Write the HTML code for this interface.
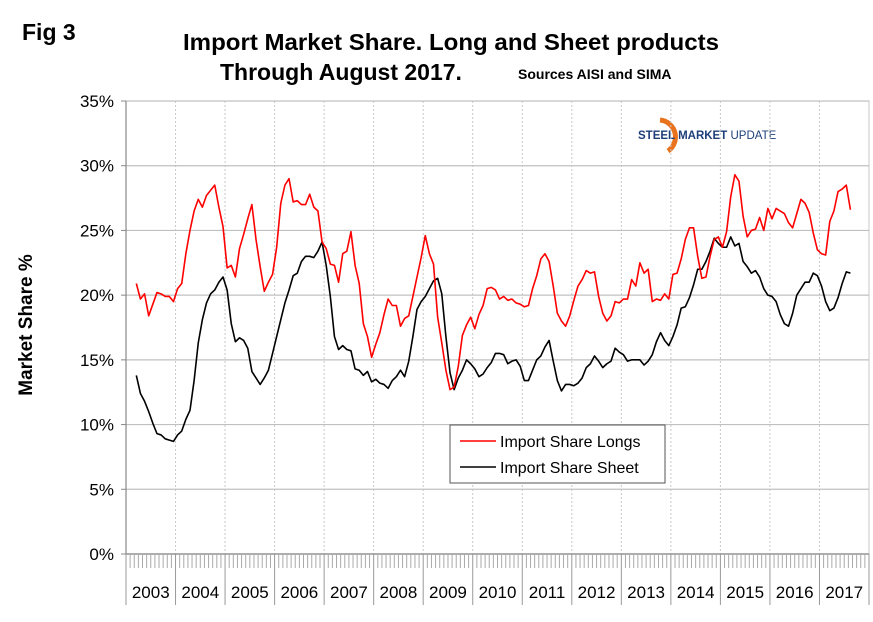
<!DOCTYPE html>
<html><head><meta charset="utf-8"><style>
html,body{margin:0;padding:0;background:#fff;}
svg{display:block;font-family:"Liberation Sans",Arial,sans-serif;}
</style></head><body>
<svg id="chart" width="873" height="622" viewBox="0 0 873 622">
<text x="22" y="40" font-size="23" font-weight="bold">Fig 3</text>
<text x="451" y="50" font-size="23" font-weight="bold" text-anchor="middle" textLength="536" lengthAdjust="spacingAndGlyphs">Import Market Share. Long and Sheet products</text>
<text x="220" y="80" font-size="23" font-weight="bold">Through August 2017.</text>
<text x="518" y="79" font-size="14" font-weight="bold">Sources AISI and SIMA</text>
<g>
<path d="M660,120 A17,17 0 0 1 668,151" fill="none" stroke="#e8731c" stroke-width="5"/>
<text x="638" y="139" font-size="11.5" font-weight="bold" fill="#1d3f7a">STEEL <tspan font-weight="bold">MARKET</tspan> <tspan font-weight="normal">UPDATE</tspan></text>
</g>
<text transform="translate(32,325) rotate(-90)" font-size="19" font-weight="bold" text-anchor="middle">Market Share %</text>
<g id="grid"></g><g id="axes"></g><g id="series"></g>
<g>
<rect x="450" y="425" width="215" height="58" fill="#fff" stroke="#555" stroke-width="1"/>
<line x1="460" y1="441" x2="496" y2="441" stroke="#ff0000" stroke-width="1.5"/>
<text x="500" y="447" font-size="16">Import Share Longs</text>
<line x1="460" y1="467" x2="496" y2="467" stroke="#000" stroke-width="1.5"/>
<text x="500" y="473" font-size="16">Import Share Sheet</text>
</g>
</svg>
<script>
const years = ["2003","2004","2005","2006","2007","2008","2009","2010","2011","2012","2013","2014","2015","2016","2017"];
const yTicks = [0,5,10,15,20,25,30,35];
const startMonth = 2; // March 2003
const longs = [20.9,19.7,20.1,18.4,19.3,20.2,20.1,19.9,19.9,19.5,20.5,20.9,23.2,25.0,26.5,27.4,26.8,27.7,28.1,28.5,26.8,25.3,22.1,22.3,21.4,23.6,24.7,25.9,27.0,24.3,22.2,20.3,21.0,21.6,23.7,27.1,28.5,29.0,27.2,27.3,27.0,27.0,27.8,26.8,26.5,24.1,23.6,22.4,22.3,21.0,23.2,23.4,24.9,22.3,20.9,17.8,16.8,15.2,16.2,17.1,18.5,19.7,19.2,19.2,17.6,18.2,18.4,19.9,21.4,22.9,24.6,23.2,22.4,18.3,16.3,14.2,12.7,12.9,14.5,16.9,17.7,18.3,17.4,18.5,19.2,20.5,20.6,20.4,19.7,19.9,19.6,19.7,19.4,19.3,19.1,19.2,20.5,21.5,22.8,23.2,22.6,20.7,18.6,18.0,17.6,18.4,19.6,20.7,21.2,21.9,21.7,21.8,19.9,18.6,18.0,18.4,19.5,19.4,19.7,19.7,21.2,20.7,22.5,21.7,22.0,19.5,19.7,19.6,20.1,19.7,21.6,21.7,22.8,24.3,25.2,25.2,23.0,21.3,21.4,23.0,24.3,24.5,23.7,24.9,27.6,29.3,28.8,26.1,24.5,25.0,25.1,26.0,25.0,26.7,25.9,26.7,26.5,26.3,25.6,25.2,26.3,27.4,27.1,26.4,24.8,23.5,23.2,23.1,25.7,26.5,28.0,28.2,28.5,26.6];
const sheet = [13.8,12.4,11.8,11.0,10.1,9.3,9.2,8.9,8.8,8.7,9.2,9.5,10.4,11.1,13.4,16.3,18.1,19.4,20.1,20.4,21.0,21.4,20.4,17.8,16.4,16.7,16.5,15.9,14.1,13.6,13.1,13.6,14.2,15.5,16.8,18.1,19.4,20.4,21.5,21.7,22.6,23.0,23.0,22.9,23.4,24.1,22.3,19.9,16.8,15.8,16.1,15.8,15.7,14.3,14.2,13.8,14.1,13.3,13.5,13.2,13.1,12.8,13.4,13.7,14.2,13.7,14.9,16.8,18.9,19.5,19.9,20.5,21.1,21.3,20.1,16.8,14.0,12.7,13.6,14.2,15.0,14.7,14.3,13.7,13.9,14.4,14.8,15.5,15.5,15.4,14.7,14.9,15.0,14.5,13.4,13.4,14.2,15.0,15.3,16.0,16.5,14.9,13.4,12.6,13.1,13.1,13.0,13.2,13.6,14.4,14.7,15.3,14.9,14.4,14.7,14.9,15.9,15.6,15.4,14.9,15.0,15.0,15.0,14.6,14.9,15.4,16.4,17.1,16.5,16.1,16.8,17.7,19.0,19.1,19.8,20.8,22.0,22.0,22.6,23.4,24.4,24.0,23.7,23.7,24.5,23.8,24.0,22.6,22.2,21.7,21.9,21.4,20.5,20.0,19.9,19.5,18.5,17.8,17.6,18.6,20.0,20.5,21.0,21.0,21.7,21.5,20.7,19.5,18.8,19.0,19.8,20.9,21.8,21.7];

const NS="http://www.w3.org/2000/svg";
const L=126,R=869,T=101,B=554,totalMonths=years.length*12;
const mw=(R-L)/totalMonths;
const xScale=m=>L+(m+0.5)*mw;
const yScale=v=>B-(v/35)*(B-T);
function mk(tag,attrs,parent){const e=document.createElementNS(NS,tag);for(const k in attrs)e.setAttribute(k,attrs[k]);parent.appendChild(e);return e;}
const grid=document.getElementById('grid'),axes=document.getElementById('axes'),series=document.getElementById('series');
mk('rect',{x:L,y:T,width:R-L,height:B-T,fill:'none',stroke:'#c8c8c8','stroke-width':1},grid);
years.forEach((y,i)=>{if(i===0)return;const x=L+i*12*mw;
 const g=mk('line',{x1:x,y1:T,x2:x,y2:B,stroke:'#c8c8c8','stroke-width':1,'stroke-dasharray':'2,2'},grid);
 
 });
yTicks.forEach(v=>{const y=yScale(v);
 const g=mk('line',{x1:L,y1:y,x2:R,y2:y,stroke:'#c0c0c0','stroke-width':1.2},grid);
 
 
 mk('line',{x1:L-5,y1:y,x2:L,y2:y,stroke:'#888'},axes);
 const t=mk('text',{x:L-12,y:y+6,'font-size':17,'text-anchor':'end'},axes);
 t.textContent=v+'%';
 
 });
mk('line',{x1:L,y1:T,x2:L,y2:B,stroke:'#888','stroke-width':1.2},axes);
mk('line',{x1:L,y1:B,x2:R,y2:B,stroke:'#888','stroke-width':1.2},axes);
for(let m=0;m<=totalMonths;m++){const x=L+m*mw;const yr=m%12===0;
 mk('line',{x1:x,y1:B,x2:x,y2:yr?605:568,stroke:yr?'#999':'#aaa','stroke-width':1},axes);}
years.forEach((y,i)=>{const t=mk('text',{x:L+(i+0.5)*12*mw,y:598,'font-size':17,'text-anchor':'middle'},axes);
 t.textContent=y;
 
 });
function line(vals,color,name){const d=vals.map((v,i)=>(i?'L':'M')+xScale(startMonth+i).toFixed(2)+','+yScale(v).toFixed(2)).join('');
 const p=mk('path',{d:d,fill:'none',stroke:color,'stroke-width':1.6,'stroke-linejoin':'round'},series);
 
 }
line(sheet,'#000','series-import-share-sheet');
line(longs,'#ff0000','series-import-share-longs');
</script>
</body></html>
